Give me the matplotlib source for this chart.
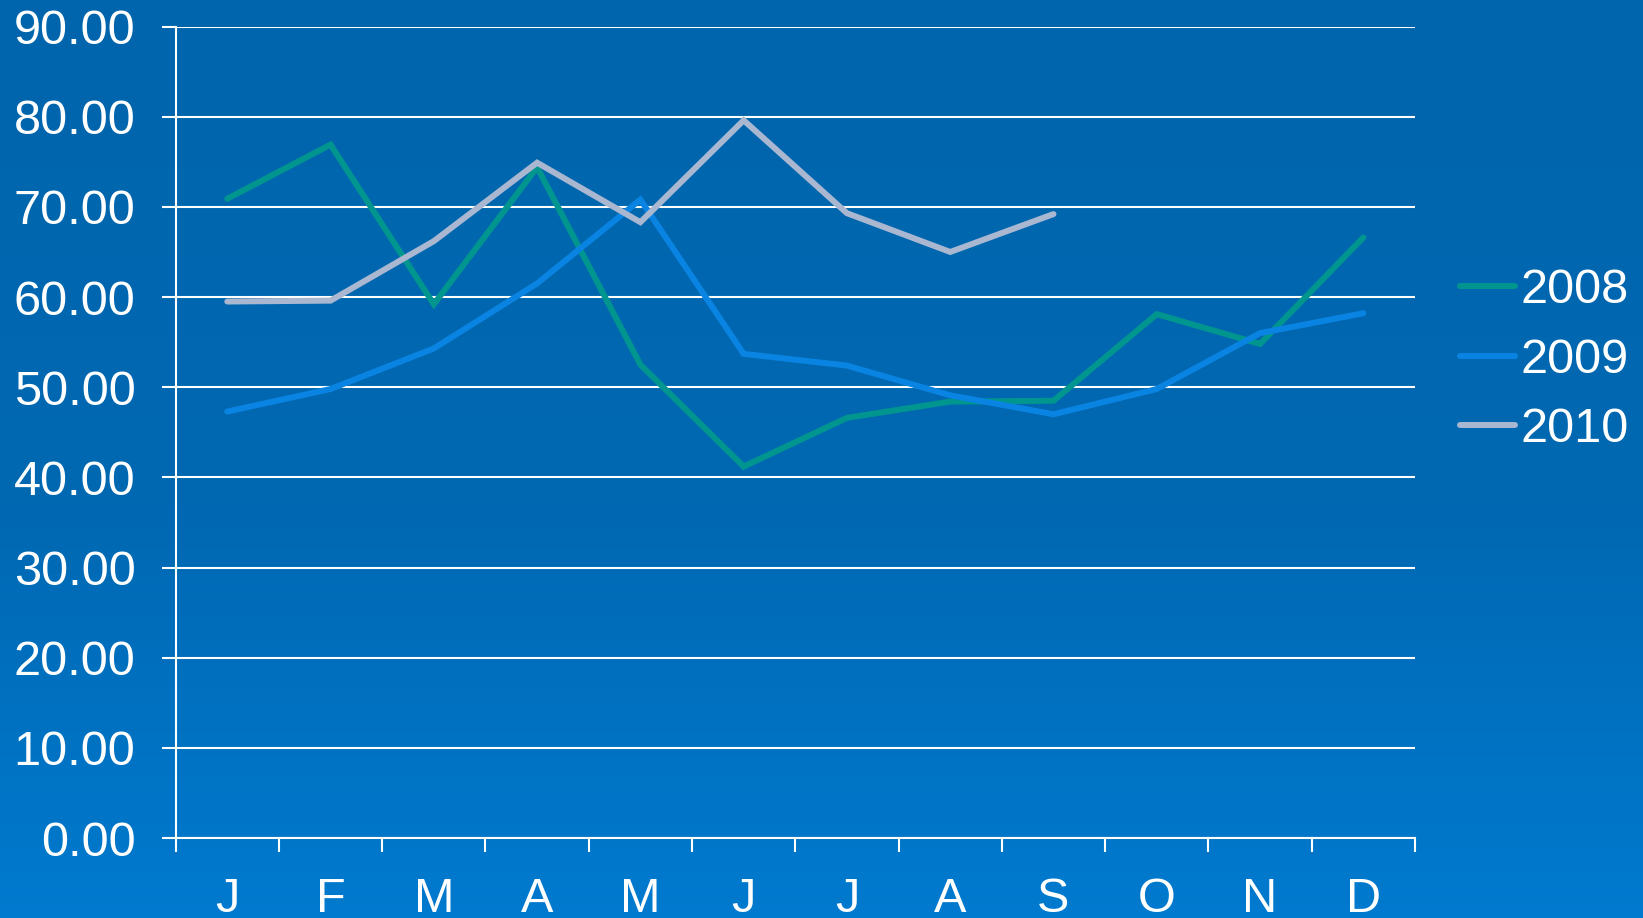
import numpy as np
import matplotlib
matplotlib.use('Agg')
import matplotlib.pyplot as plt
from matplotlib.colors import LinearSegmentedColormap

# Data section
months = ['J', 'F', 'M', 'A', 'M', 'J', 'J', 'A', 'S', 'O', 'N', 'D']
y2008 = [70.9, 76.9, 59.2, 74.4, 52.5, 41.2, 46.6, 48.4, 48.5, 58.1, 54.8, 66.6]
y2009 = [47.3, 49.8, 54.3, 61.5, 70.8, 53.7, 52.4, 49.1, 47.0, 49.8, 56.0, 58.2]
y2010 = [59.5, 59.6, 66.2, 74.9, 68.3, 79.6, 69.3, 65.0, 69.2]
yticks = [0, 10, 20, 30, 40, 50, 60, 70, 80, 90]

series = [('2008', y2008, '#00968f'),
          ('2009', y2009, '#0a84e2'),
          ('2010', y2010, '#a9b7d1')]

plt.rcParams['font.family'] = ['Liberation Sans', 'DejaVu Sans']

fig = plt.figure(figsize=(16.43, 9.18), dpi=100)

# gradient background
bg = fig.add_axes([0, 0, 1, 1], zorder=-10)
cmap = LinearSegmentedColormap.from_list(
    'bg', [(0.0, '#0065ac'), (0.55, '#0068b2'), (1.0, '#007acf')])
grad = np.linspace(0, 1, 256).reshape(-1, 1)
bg.imshow(grad, aspect='auto', cmap=cmap, extent=[0, 1, 0, 1])
bg.axis('off')

ax = fig.add_axes([0.1069, 0.0871, 0.7543, 0.884])
ax.patch.set_alpha(0)

x = np.arange(len(months))
for name, vals, col in series:
    ax.plot(x[:len(vals)], vals, color=col, lw=4.3, label=name,
            solid_capstyle='round', solid_joinstyle='miter')

ax.set_xlim(-0.5, len(months) - 0.5)
ax.set_ylim(0, 90)
ax.set_yticks(yticks)
ax.set_yticklabels(['%.2f' % v for v in yticks])
ax.yaxis.grid(True, color='white', lw=1.5)
ax.set_axisbelow(True)

ax.set_xticks(x)
ax.set_xticklabels(months)
ax.set_xticks(np.arange(-0.5, len(months)), minor=True)
ax.tick_params(axis='x', which='major', length=0, pad=28, labelsize=35,
               colors='white')
ax.tick_params(axis='x', which='minor', length=10, width=1.5, color='white',
               direction='out')
ax.tick_params(axis='y', length=10, width=1.5, color='white', pad=19,
               labelsize=35, labelcolor='white')

for s in ['top', 'right']:
    ax.spines[s].set_visible(False)
for s in ['left', 'bottom']:
    ax.spines[s].set_color('white')
    ax.spines[s].set_linewidth(1.5)

leg = ax.legend(loc='center left', bbox_to_anchor=(1.036, 0.589),
                frameon=False, fontsize=35, handlelength=1.15,
                handletextpad=0.1, labelspacing=0.5, borderaxespad=0,
                borderpad=0)
for t in leg.get_texts():
    t.set_color('white')

fig.savefig('out.png', dpi=100)
